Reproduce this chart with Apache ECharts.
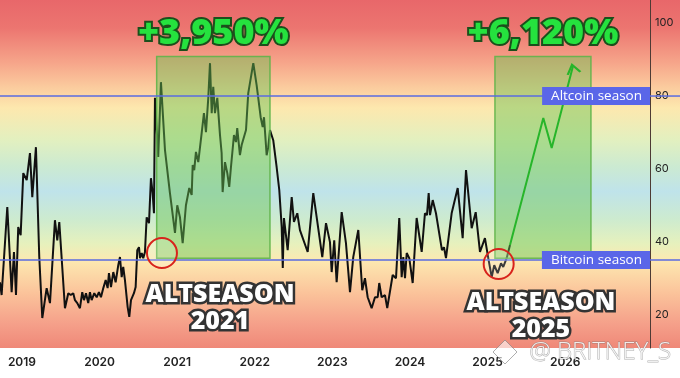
<!DOCTYPE html>
<html>
<head>
<meta charset="utf-8">
<script src="https://cdn.jsdelivr.net/npm/echarts@6/dist/echarts.min.js"></script>
<style>
  html, body { margin: 0; padding: 0; background: #fff; }
  #main { width: 680px; height: 378px; }
</style>
</head>
<body>
<div id="main"></div>
<script>
// altcoin season index (weekly)
const dates = [
  2018.717, 2018.738, 2018.811, 2018.867, 2018.897, 2018.923, 2018.952, 2018.983, 2019.017, 2019.061,
  2019.103, 2019.133, 2019.180, 2019.223, 2019.262, 2019.318, 2019.361, 2019.425, 2019.455, 2019.481,
  2019.554, 2019.597, 2019.628, 2019.661, 2019.683, 2019.713, 2019.747, 2019.777, 2019.799, 2019.825,
  2019.854, 2019.876, 2019.898, 2019.932, 2019.963, 2019.992, 2020.018, 2020.048, 2020.079, 2020.104,
  2020.121, 2020.147, 2020.177, 2020.207, 2020.241, 2020.263, 2020.285, 2020.305, 2020.327, 2020.362,
  2020.383, 2020.405, 2020.443, 2020.465, 2020.486, 2020.508, 2020.521, 2020.543, 2020.563, 2020.585,
  2020.607, 2020.637, 2020.662, 2020.684, 2020.701, 2020.714, 2020.736, 2020.756, 2020.791, 2020.843,
  2020.907, 2020.972, 2021.001, 2021.036, 2021.071, 2021.113, 2021.156, 2021.187, 2021.200, 2021.220,
  2021.242, 2021.272, 2021.316, 2021.345, 2021.371, 2021.401, 2021.423, 2021.445, 2021.465, 2021.487,
  2021.517, 2021.552, 2021.573, 2021.586, 2021.616, 2021.646, 2021.671, 2021.693, 2021.732, 2021.758,
  2021.774, 2021.809, 2021.831, 2021.887, 2021.916, 2021.981, 2022.024, 2022.076, 2022.102, 2022.119,
  2022.153, 2022.174, 2022.196, 2022.238, 2022.282, 2022.316, 2022.347, 2022.361, 2022.376, 2022.424,
  2022.476, 2022.505, 2022.548, 2022.582, 2022.682, 2022.754, 2022.870, 2022.918, 2022.969, 2022.991,
  2023.024, 2023.055, 2023.120, 2023.175, 2023.227, 2023.269, 2023.334, 2023.385, 2023.420, 2023.455,
  2023.506, 2023.549, 2023.584, 2023.604, 2023.635, 2023.678, 2023.707, 2023.777, 2023.820, 2023.862,
  2023.893, 2023.914, 2023.936, 2023.958, 2023.991, 2024.035, 2024.086, 2024.151, 2024.193, 2024.219,
  2024.241, 2024.258, 2024.293, 2024.335, 2024.412, 2024.438, 2024.464, 2024.537, 2024.615, 2024.679,
  2024.722, 2024.795, 2024.847, 2024.902, 2024.966, 2025.009, 2025.053, 2025.086, 2025.130, 2025.173,
  2025.202, 2025.246, 2025.289
];
const indexValues = [
  29.0, 25.5, 49.6, 26.3, 37.3, 25.5, 44.1, 41.9, 58.9, 57.0,
  64.4, 52.3, 66.0, 35.9, 19.2, 27.4, 23.3, 46.0, 40.5, 45.5,
  21.9, 26.0, 25.5, 26.0, 24.1, 23.3, 21.9, 26.3, 24.1, 26.0,
  23.3, 26.3, 24.1, 26.0, 24.9, 26.3, 24.9, 27.4, 29.6, 27.4,
  31.5, 27.7, 31.8, 29.0, 33.7, 35.9, 30.4, 33.2, 29.6, 22.2,
  19.5, 24.1, 26.0, 27.7, 37.8, 38.6, 35.6, 37.0, 35.6, 37.3,
  46.8, 45.2, 57.5, 53.4, 47.9, 79.5, 79.7, 63.3, 83.8, 65.2,
  53.4, 42.5, 50.1, 46.8, 39.7, 50.1, 54.8, 52.9, 61.1, 59.7,
  64.7, 61.9, 69.9, 75.3, 70.1, 79.5, 89.0, 75.3, 82.5, 75.3,
  79.5, 69.3, 64.4, 53.7, 61.9, 58.9, 55.1, 60.5, 69.3, 67.4,
  71.2, 63.8, 66.6, 70.7, 80.8, 89.0, 83.0, 74.2, 71.5, 74.2,
  63.8, 66.0, 70.7, 67.9, 60.5, 54.2, 44.1, 32.9, 46.6, 37.8,
  52.3, 45.5, 47.9, 43.3, 37.3, 53.4, 35.9, 45.2, 40.0, 31.8,
  40.5, 29.0, 48.2, 39.7, 26.3, 35.9, 43.3, 26.8, 30.1, 24.9,
  21.9, 24.9, 24.9, 28.8, 24.9, 25.5, 21.9, 31.0, 30.1, 46.6,
  30.4, 35.9, 30.1, 37.0, 35.6, 28.8, 46.6, 37.3, 47.9, 47.4,
  53.4, 47.4, 51.5, 47.9, 37.8, 38.6, 35.6, 47.9, 54.8, 41.1,
  59.7, 43.8, 48.2, 37.3, 41.1, 35.6, 30.4, 33.7, 31.5, 34.2,
  33.2, 35.6, 39.2
];

// projected move (green arrow)
const projDates = [2025.289, 2025.718, 2025.826, 2026.101];
const projValues = [39.2, 74.0, 65.8, 88.2];

// highlighted altseason windows: [start, end, low, high]
const seasonBoxes = [
  [2020.736, 2022.196, 35.6, 90.8],
  [2025.095, 2026.332, 35.6, 90.8]
];
const gainLabels = ['+3,950%', '+6,120%'];
const altseasonLabels = ['ALTSEASON\n2021', 'ALTSEASON\n2025'];
const circleAt = [[2020.804, 37.0], [2025.143, 34.0]];
const altseasonTextAt = [[2021.552, 21.9], [2025.688, 19.6]];

const thresholdValues = [80, 35.1];
const thresholdNames = ['Altcoin season', 'Bitcoin season'];

const yearTicks = [2019, 2020, 2021, 2022, 2023, 2024, 2025, 2026];
const valueTicks = [20, 40, 60, 80, 100];

const chart = echarts.init(document.getElementById('main'));

const lineData = dates.map((d, i) => [d, indexValues[i]]);
const projData = projDates.map((d, i) => [d, projValues[i]]);

function renderBox(params, api) {
  const p0 = api.coord([api.value(0), api.value(3)]);
  const p1 = api.coord([api.value(1), api.value(2)]);
  return {
    type: 'rect',
    shape: { x: p0[0], y: p0[1], width: p1[0] - p0[0], height: p1[1] - p0[1] },
    style: { fill: 'rgba(104, 196, 82, 0.45)', stroke: 'rgba(96, 180, 74, 0.9)', lineWidth: 1.5 }
  };
}

const last = projData.length - 1;
const ang = Math.atan2(projValues[last] - projValues[last - 1], projDates[last] - projDates[last - 1]);

const option = {
  animation: false,
  grid: { left: 0, right: 30, top: 0, bottom: 30 },
  xAxis: {
    type: 'value',
    min: 2018.717,
    max: 2027.093,
    axisLine: { show: false },
    axisTick: { show: false },
    splitLine: { show: false },
    axisLabel: {
      customValues: yearTicks,
      formatter: v => String(Math.round(v)),
      color: '#222',
      fontSize: 12,
      fontWeight: 600,
      fontFamily: 'Inter',
      margin: 8
    }
  },
  yAxis: {
    type: 'value',
    position: 'right',
    min: 11,
    max: 106.3,
    axisLine: { show: true, lineStyle: { color: '#4d3a34', width: 1 } },
    axisTick: { show: false },
    splitLine: { show: false },
    axisLabel: {
      customValues: valueTicks,
      color: '#222',
      fontSize: 11,
      fontFamily: 'Inter',
      margin: 5
    }
  },
  series: [
    {
      type: 'line',
      data: lineData,
      symbol: 'none',
      z: 2,
      lineStyle: { color: '#111', width: 2 }
    },
    {
      type: 'custom',
      renderItem: renderBox,
      data: seasonBoxes,
      z: 3,
      silent: true
    },
    {
      type: 'line',
      data: projData.map((p, i) => i === last ? {
        value: p,
        symbol: 'path://M0,10 L6,0 L12,10',
        symbolSize: [13, 9],
        symbolRotate: (ang * 180 / Math.PI) - 90 + 14,
        symbolOffset: [0, 3],
        itemStyle: { color: 'transparent', borderColor: '#27b52a', borderWidth: 2 }
      } : { value: p, symbol: 'none' }),
      z: 4,
      lineStyle: { color: '#27b52a', width: 2 },
      markLine: {
        silent: true,
        symbol: 'none',
        label: { show: false },
        lineStyle: { color: '#5a6be0', width: 1.5, type: 'solid' },
        data: thresholdValues.map(v => ({ yAxis: v }))
      }
    }
  ]
};

chart.setOption(option);

const toPx = p => chart.convertToPixel({ gridIndex: 0 }, p);
const gridRight = 650;

const graphics = [];
// rainbow background behind the plot and the value labels
graphics.push({
  type: 'rect',
  z: -10,
  silent: true,
  shape: { x: 0, y: 0, width: 680, height: 348 },
  style: {
    fill: new echarts.graphic.LinearGradient(0, 0, 0, 1, [
      { offset: 0.00, color: '#e8676a' },
      { offset: 0.08, color: '#ec7570' },
      { offset: 0.18, color: '#f6a58a' },
      { offset: 0.25, color: '#fbcb9e' },
      { offset: 0.31, color: '#fde8ae' },
      { offset: 0.40, color: '#e3f0bf' },
      { offset: 0.48, color: '#cbead2' },
      { offset: 0.55, color: '#bfe3ea' },
      { offset: 0.63, color: '#cdebcf' },
      { offset: 0.70, color: '#e6f1bd' },
      { offset: 0.75, color: '#fde8b0' },
      { offset: 0.84, color: '#fbc49b' },
      { offset: 0.93, color: '#f5a08a' },
      { offset: 1.00, color: '#ef8878' }
    ])
  }
});
// threshold lines continue through the value labels
thresholdValues.forEach((v, i) => {
  const y = toPx([2026, v])[1];
  graphics.push({
    type: 'line', z: 5, silent: true,
    shape: { x1: gridRight, y1: y, x2: 680, y2: y },
    style: { stroke: '#5a6be0', lineWidth: 1.5 }
  });
  graphics.push({
    type: 'text', z: 20, silent: true,
    x: gridRight, y: y,
    style: {
      text: thresholdNames[i],
      align: 'right',
      verticalAlign: 'middle',
      font: '500 13.5px "Open Sans"',
      fill: '#fff',
      backgroundColor: '#5a66e8',
      padding: [2, 8, 2, 9]
    }
  });
});
seasonBoxes.forEach((b, i) => {
  const cx = toPx([(b[0] + b[1]) / 2, 97])[0];
  graphics.push({
    type: 'text', z: 20, silent: true,
    x: cx, y: 34,
    style: {
      text: gainLabels[i],
      align: 'center',
      verticalAlign: 'middle',
      font: '800 36px "Open Sans"',
      fill: '#25e23e',
      stroke: '#1c4f1c',
      lineWidth: 4,
      strokeFirst: true,
      shadowColor: 'rgba(0,0,0,0.45)',
      shadowBlur: 3,
      shadowOffsetY: 2
    }
  });
});
circleAt.forEach(c => {
  const p = toPx(c);
  graphics.push({
    type: 'circle', z: 20, silent: true,
    shape: { cx: p[0], cy: p[1], r: 15 },
    style: { fill: 'rgba(255,255,255,0.18)', stroke: '#d8231c', lineWidth: 2 }
  });
});
altseasonTextAt.forEach((t, i) => {
  const p = toPx(t);
  graphics.push({
    type: 'text', z: 20, silent: true,
    x: p[0], y: p[1],
    style: {
      text: altseasonLabels[i],
      align: 'center',
      verticalAlign: 'middle',
      lineHeight: 27,
      font: '800 25px "Open Sans"',
      fill: '#fff',
      stroke: '#333',
      lineWidth: 5,
      strokeFirst: true,
      shadowColor: 'rgba(0,0,0,0.35)',
      shadowBlur: 3,
      shadowOffsetY: 2
    }
  });
});
// watermark
graphics.push({
  type: 'text', z: 30, silent: true,
  x: 671, y: 352,
  style: {
    text: '@ BRITNEY_S',
    align: 'right',
    verticalAlign: 'middle',
    font: '300 24px "Open Sans"',
    fill: 'rgba(255,255,255,0.85)',
    stroke: 'rgba(120,120,120,0.6)',
    lineWidth: 1
  }
});
graphics.push({
  type: 'polygon', z: 30, silent: true,
  shape: { points: [[505, 340], [517, 352], [505, 364], [493, 352]] },
  style: { fill: 'rgba(255,255,255,0.6)', stroke: 'rgba(120,120,120,0.6)', lineWidth: 1 }
});

chart.setOption({ graphic: graphics });
</script>
</body>
</html>
